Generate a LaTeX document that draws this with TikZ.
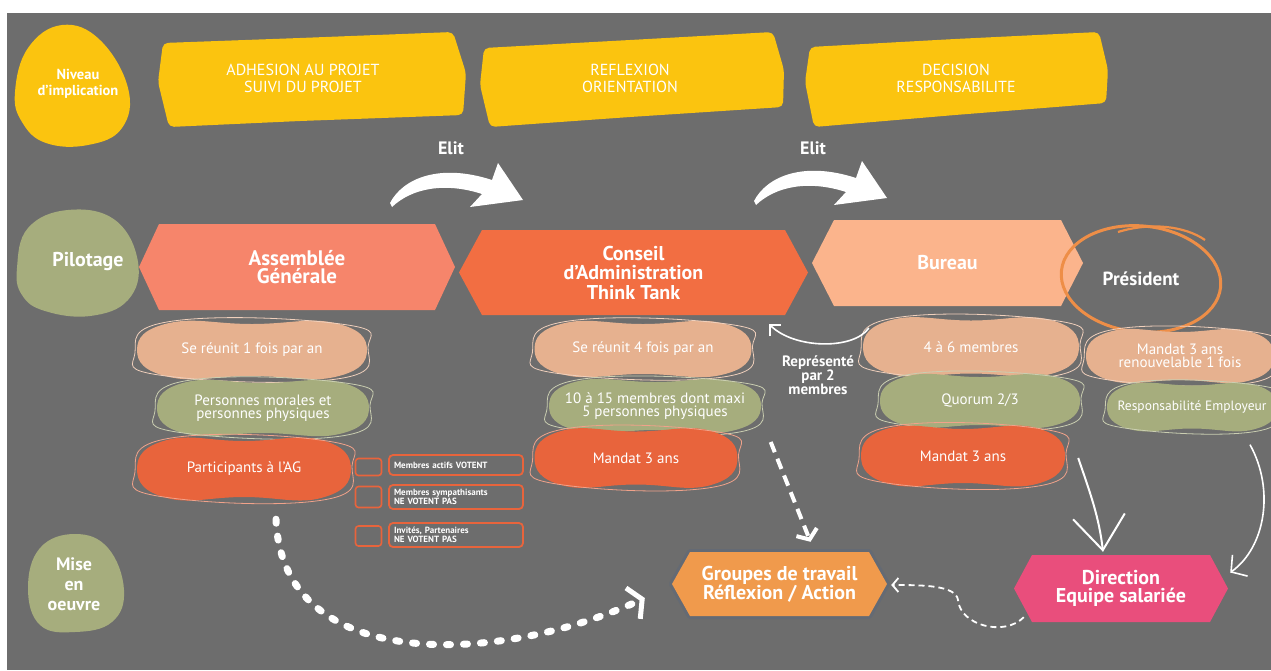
\documentclass[tikz,border=0pt]{standalone}
\usepackage{fontspec}
\setmainfont{PT Sans}
\usetikzlibrary{arrows.meta,calc}
\definecolor{bggray}{HTML}{6D6D6D}
\definecolor{yel}{HTML}{FBC40F}
\definecolor{grn}{HTML}{A6AD7D}
\definecolor{agcol}{HTML}{F6856B}
\definecolor{cacol}{HTML}{F26E42}
\definecolor{bucol}{HTML}{FBB48C}
\definecolor{peach}{HTML}{E6B18F}
\definecolor{redb}{HTML}{E8643C}
\definecolor{prescol}{HTML}{EE8E47}
\definecolor{grpcol}{HTML}{F09A4C}
\definecolor{dircol}{HTML}{E94E7C}
\definecolor{halo}{HTML}{646A74}

\tikzset{
  blobtxt/.style={text=white,align=center,font=\fontsize{15}{13}\selectfont,inner sep=0pt},
  hexlabel/.style={text=white,align=center,inner sep=0pt},
  hexbig/.style={font=\bfseries\fontsize{21}{18.5}\selectfont},
  hexmid/.style={font=\bfseries\fontsize{20}{19.5}\selectfont},
  hexlow/.style={font=\bfseries\fontsize{20}{18}\selectfont},
  bannertxt/.style={text=white,align=center,font=\fontsize{16}{17}\selectfont},
  sidetxt/.style={text=white,align=center,font=\bfseries\fontsize{18}{20}\selectfont},
  chkbox/.style={draw=redb,line width=1.6pt,rounded corners=3pt,minimum width=26pt,minimum height=17pt,inner sep=0pt},
  chklabel/.style={draw=redb,line width=1.8pt,rounded corners=4pt,minimum width=134pt,text width=124pt,align=left,inner xsep=5pt,inner ysep=0pt,text=white,font=\bfseries\fontsize{9}{7.5}\selectfont},
  thinarr/.style={white,line width=1.6pt,-{Straight Barb[length=8pt,width=16pt]}},
  bigvarr/.style={white,line width=2pt,-{Straight Barb[length=34pt,width=52pt]}},
  dotarr/.style={white,line width=7pt,line cap=round,dash pattern=on 4pt off 13pt,-{Straight Barb[length=10pt,width=34pt,line width=5pt]}},
  dasharr/.style={white,line width=4pt,dash pattern=on 11pt off 7pt,-{Straight Barb[length=8pt,width=22pt,line width=4pt]}},
  dashthin/.style={white,line width=1.8pt,dash pattern=on 6pt off 4pt,-{Straight Barb[length=6pt,width=14pt]}},
  elittxt/.style={text=white,font=\bfseries\fontsize{18}{18}\selectfont},
}

% blob: name, cx, cy, w, h, fill, text
\newcommand\orgblob[7]{%
  \pgfmathsetmacro\bxa{#2-#4/2}%
  \pgfmathsetmacro\bxb{#2+#4/2}%
  \pgfmathsetmacro\bxc{#2-0.36*#4}%
  \pgfmathsetmacro\bxd{#2+0.36*#4}%
  \pgfmathsetmacro\bya{#3-#5/2}%
  \pgfmathsetmacro\byb{#3+#5/2}%
  \fill[#6] plot[smooth cycle,tension=0.8] coordinates {(\bxa,#3) (\bxc,\bya) (#2,\bya+1) (\bxd,\bya) (\bxb,#3) (\bxd,\byb) (#2,\byb-1) (\bxc,\byb)};
  \draw[#6!60!white,line width=0.8pt] plot[smooth cycle,tension=0.8] coordinates {(\bxa-2,#3+3) (\bxc+4,\bya-2) (\bxd+6,\bya+1) (\bxb+1,#3-3) (\bxd+2,\byb+2) (\bxc-3,\byb-1)};
  \node[blobtxt,minimum width=#4,minimum height=#5] (#1) at (#2,#3) {#7};
}
% hexagon: name, x1, x2, ytop, ybottom, depth, fill, font style, text
\newcommand\hexnode[9]{%
  \pgfmathsetmacro\hxm{(#4+#5)/2}%
  \pgfmathsetmacro\hxa{#2+#6}%
  \pgfmathsetmacro\hxb{#3-#6}%
  \pgfmathsetmacro\hcx{(#2+#3)/2}%
  \pgfmathsetmacro\hw{#3-#2}%
  \pgfmathsetmacro\hh{#5-#4}%
  \fill[#7] (#2,\hxm) -- (\hxa,#4) -- (\hxb,#4) -- (#3,\hxm) -- (\hxb,#5) -- (\hxa,#5) -- cycle;
  \node[hexlabel,#8,minimum width=\hw,minimum height=\hh] (#1) at (\hcx,\hxm) {#9};
}

\begin{document}
\begin{tikzpicture}[x=1pt,y=-1pt]
\useasboundingbox (0,0) rectangle (1271,670);
\clip (0,0) rectangle (1271,670);
\fill[white] (0,0) rectangle (1271,670);
\fill[bggray] (7,13) rectangle (1271,670);

% ---- top row: level of involvement
\fill[yel] plot[smooth cycle,tension=0.7] coordinates {(15,92) (28,48) (62,25) (100,40) (128,88) (122,128) (88,145) (46,143) (22,122)};
\node[text=white,align=center,font=\bfseries\fontsize{14.5}{16}\selectfont] (niveau) at (78,84) {Niveau\\d'implication};

\fill[yel,rounded corners=5pt] (163,43) -- (300,38) -- (453,32) -- (466,73) -- (463,115) -- (300,121) -- (169,127) -- (158,82) -- cycle;
\node[bannertxt] (ban1) at (303,78) {ADHESION AU PROJET\\SUIVI DU PROJET};
\fill[yel,rounded corners=5pt] (484,48) -- (630,40) -- (773,32) -- (784,70) -- (783,107) -- (630,117) -- (490,127) -- (480,85) -- cycle;
\node[bannertxt] (ban2) at (630,78) {REFLEXION\\ORIENTATION};
\fill[yel,rounded corners=5pt] (810,47) -- (955,39) -- (1099,32) -- (1108,70) -- (1106,103) -- (955,115) -- (814,127) -- (805,82) -- cycle;
\node[bannertxt] (ban3) at (956,78) {DECISION\\RESPONSABILITE};

% ---- Elit arrows
\node[elittxt] (elit1) at (451,148) {Elit};
\node[elittxt] (elit2) at (813,148) {Elit};
\fill[white] (390,203) .. controls (403,178) and (440,163) .. (492,180) -- (498,163) -- (523,200) -- (470,207) -- (482,194) .. controls (445,182) and (412,188) .. (392,207) -- cycle;
\begin{scope}[shift={(364,-2)}]
\fill[white] (390,203) .. controls (403,178) and (440,163) .. (492,180) -- (498,163) -- (523,200) -- (470,207) -- (482,194) .. controls (445,182) and (412,188) .. (392,207) -- cycle;
\end{scope}

% ---- Pilotage row
\fill[grn] plot[smooth cycle,tension=0.7] coordinates {(17,268) (28,228) (68,210) (115,220) (138,262) (128,300) (90,316) (45,311) (22,295)};
\node[sidetxt,font=\bfseries\fontsize{20}{20}\selectfont] (pilot) at (88,262) {Pilotage};

\hexnode{ag}{139}{455}{224}{310}{20}{agcol}{hexbig}{Assemblée\\Générale}
\hexnode{ca}{459}{808}{230}{315}{23}{cacol}{hexmid}{Conseil\\d'Administration\\Think Tank}
\hexnode{bureau}{812}{1083}{220}{306}{22}{bucol}{hexmid}{Bureau}

\draw[prescol,line width=3pt,rotate around={-6:(1141,279)}] (1141,279) ellipse [x radius=80, y radius=53];
\draw[prescol,line width=2.2pt] (1118,232) .. controls (1150,222) and (1185,226) .. (1205,240);
\node[text=white,font=\bfseries\fontsize{19}{19}\selectfont,minimum width=150pt,minimum height=100pt] (pres) at (1141,279) {Président};

% ---- blobs
\orgblob{agreunit}{252}{350}{230}{54}{peach}{Se réunit 1 fois par an}
\orgblob{agpers}{263}{408}{212}{52}{grn}{Personnes morales et\\personnes physiques}
\orgblob{agpart}{244}{469}{214}{58}{redb}{Participants à l'AG}

\orgblob{careunit}{643}{349}{217}{52}{peach}{Se réunit 4 fois par an}
\orgblob{camemb}{655}{406}{212}{50}{grn}{10 à 15 membres dont maxi\\5 personnes physiques}
\orgblob{camandat}{636}{458}{203}{55}{redb}{Mandat 3 ans}

\orgblob{bumemb}{971}{347}{216}{55}{peach}{4 à 6 membres}
\orgblob{buquorum}{980}{401}{200}{50}{grn}{Quorum 2/3}
\orgblob{bumandat}{963}{456}{204}{56}{redb}{Mandat 3 ans}

\orgblob{presmandat}{1180}{356}{188}{50}{peach}{Mandat 3 ans\\renouvelable 1 fois}
\orgblob{presresp}{1192}{407}{170}{45}{grn}{\fontsize{13.5}{13}\selectfont Responsabilité Employeur}

% ---- checkboxes
\node[chkbox] (cb1) at (368.5,467) {};
\node[chkbox,minimum height=21pt] (cb2) at (368.5,497) {};
\node[chkbox,minimum height=20pt] (cb3) at (368.5,536) {};
\node[chklabel,minimum height=20pt] (lab1) at (456,465) {Membres actifs VOTENT};
\node[chklabel,minimum height=24pt] (lab2) at (456,497) {Membres sympathisants\\NE VOTENT PAS};
\node[chklabel,minimum height=24pt] (lab3) at (456,535) {Invités, Partenaires\\NE VOTENT PAS};

% ---- Représenté
\node[text=white,align=center,font=\bfseries\fontsize{15}{13.5}\selectfont] (repr) at (818,375) {Représenté\\par 2\\membres};
\coordinate (repS) at ($(bumemb.west)+(6,-19)$);
\coordinate (repE) at ($(ca.south east)+(-39,9)$);
\draw[thinarr] (repS) .. controls +(-15,22) and +(25,25) .. (repE);

% ---- Mise en oeuvre
\fill[grn] plot[smooth cycle,tension=0.7] coordinates {(28,588) (40,548) (75,534) (108,548) (124,590) (112,622) (75,632) (40,625)};
\node[sidetxt,font=\bfseries\fontsize{18}{20}\selectfont] (mise) at (74,584) {Mise\\en\\oeuvre};

\draw[halo,line width=6pt,line join=round] (672,584) -- (690,552) -- (869,552) -- (887,584) -- (869,616) -- (690,616) -- cycle;
\hexnode{groupes}{672}{887}{552}{616}{18}{grpcol}{hexlow}{Groupes de travail\\Réflexion / Action}
\hexnode{dir}{1014}{1228}{555}{622}{18}{dircol}{hexlow}{Direction\\Equipe salariée}

% ---- connectors
\coordinate (dotS) at ($(agpart.south)+(32,21)$);
\coordinate (dotE) at ($(groupes.west)+(-27,14)$);
\draw[dotarr] (dotS) .. controls (282,675) and (500,665) .. (dotE);

\coordinate (caS) at ($(camandat.east)+(33,-16)$);
\coordinate (caE) at ($(groupes.north)+(31,-10)$);
\draw[dasharr] (caS) -- (caE);

\coordinate (buS) at ($(bumandat.east)+(13,2)$);
\coordinate (buE) at ($(dir.north)+(-18,-3)$);
\draw[bigvarr] (buS) .. controls +(12,35) and +(-4,-35) .. (buE);

\coordinate (rsS) at ($(presresp.south)+(58,15)$);
\coordinate (rsE) at ($(dir.east)+(2,-16)$);
\draw[thinarr,-{Straight Barb[length=11pt,width=26pt]}] (rsS) .. controls +(25,45) and +(35,-25) .. (rsE);

\coordinate (dgS) at ($(dir.south west)+(10,-5)$);
\coordinate (dgM) at (958,600);
\coordinate (dgE) at ($(groupes.east)+(4,1)$);
\draw[dashthin] (dgS) .. controls +(-20,20) and +(2,25) .. (dgM) .. controls +(-2,-15) and +(30,0) .. (dgE);
\end{tikzpicture}
\end{document}
